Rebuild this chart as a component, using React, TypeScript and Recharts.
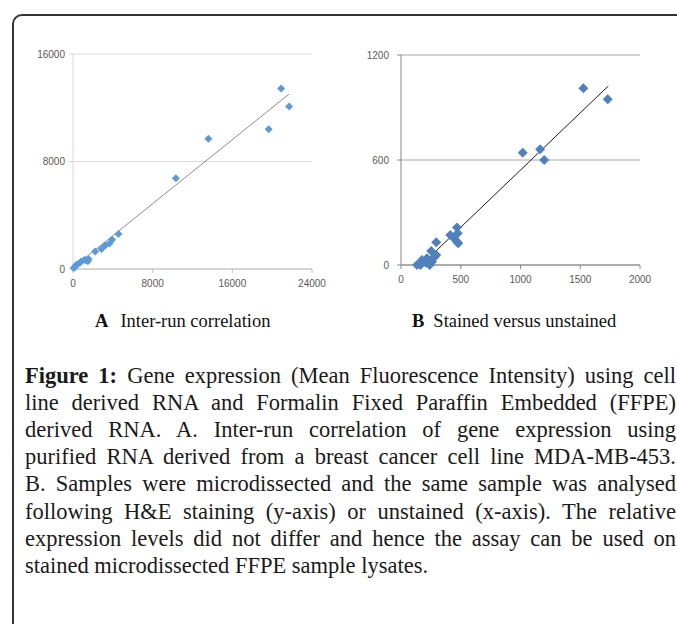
import React from 'react';
import { ScatterChart, Scatter, XAxis, YAxis, CartesianGrid, ReferenceLine } from 'recharts';

// A: inter-run correlation (run 1 vs run 2 MFI)
const runX = [20900, 21700, 19650, 13600, 10330, 4560, 3930, 3660, 3260, 2860, 2230, 1570, 1500, 1330, 1170, 830, 670, 330, 200, 70];
const runY = [13440, 12100, 10400, 9700, 6750, 2600, 2180, 1890, 1760, 1490, 1310, 740, 570, 640, 690, 550, 450, 320, 150, 70];
const runTrendX = [0, 21700];
const runTrendY = [100, 13020];
const runXTicks = [0, 8000, 16000, 24000];
const runYTicks = [0, 8000, 16000];

// B: stained (y) versus unstained (x)
const stainX = [1526, 1730, 1019, 1164, 1198, 468, 412, 475, 446, 468, 479, 295, 253, 295, 217, 175, 134, 162, 240, 209, 259, 280];
const stainY = [1010, 947, 642, 661, 600, 215, 171, 181, 152, 133, 124, 130, 80, 57, 38, 29, 0, 0, 0, 13, 19, 45];
const stainTrendX = [170, 1735];
const stainTrendY = [0, 1023];
const stainXTicks = [0, 500, 1000, 1500, 2000];
const stainYTicks = [0, 600, 1200];

const zip = (xs: number[], ys: number[]) => xs.map((x, i) => ({ x, y: ys[i] }));

const runData = zip(runX, runY);
const stainData = zip(stainX, stainY);
const runTrend = zip(runTrendX, runTrendY);
const stainTrend = zip(stainTrendX, stainTrendY);

const captionLines = [
  'Gene expression (Mean Fluorescence Intensity) using cell',
  'line derived RNA and Formalin Fixed Paraffin Embedded (FFPE)',
  'derived RNA. A. Inter-run correlation of gene expression using',
  'purified RNA derived from a breast cancer cell line MDA-MB-453.',
  'B. Samples were microdissected and the same sample was analysed',
  'following H&E staining (y-axis) or unstained (x-axis). The relative',
  'expression levels did not differ and hence the assay can be used on',
  'stained microdissected FFPE sample lysates.',
];

const diamond = (r: number, fill: string) => (props: any) => {
  const { cx, cy } = props;
  if (cx == null || cy == null) return <g />;
  return <polygon points={`${cx},${cy - r} ${cx + r},${cy} ${cx},${cy + r} ${cx - r},${cy}`} fill={fill} />;
};

const tickStyle = { fill: '#595959', fontSize: 10, fontFamily: 'Liberation Sans' };

export default function App() {
  return (
    <div style={{ position: 'absolute', left: 0, top: 0, width: 677, height: 624, background: '#fff', overflow: 'hidden' }}>
      <div style={{ position: 'absolute', left: 12, top: 14, width: 720, height: 700, border: '2px solid #333', borderRadius: 10 }} />

      <div style={{ position: 'absolute', left: 0, top: 40 }}>
        <ScatterChart width={340} height={260} margin={{ top: 14, right: 28, bottom: 11, left: 0 }}>
          <CartesianGrid vertical={false} stroke="#d9d9d9" />
          <XAxis type="number" dataKey="x" domain={[0, 24000]} ticks={runXTicks} interval={0}
            axisLine={{ stroke: '#bfbfbf' }} tickLine={{ stroke: '#bfbfbf' }} tickSize={4} tickMargin={7}
            tick={tickStyle} height={20} />
          <YAxis type="number" dataKey="y" domain={[0, 16000]} ticks={runYTicks} interval={0}
            axisLine={{ stroke: '#d9d9d9' }} tickLine={{ stroke: '#d9d9d9' }} tickSize={4} tickMargin={4}
            tick={tickStyle} width={73} />
          <ReferenceLine segment={runTrend} stroke="#8c8c8c" strokeWidth={1} />
          <Scatter data={runData} shape={diamond(4, '#5b9bd5')} isAnimationActive={false} />
        </ScatterChart>
      </div>

      <div style={{ position: 'absolute', left: 340, top: 40 }}>
        <ScatterChart width={330} height={260} margin={{ top: 15, right: 30, bottom: 15, left: 0 }}>
          <CartesianGrid vertical={false} stroke="#a6a6a6" />
          <XAxis type="number" dataKey="x" domain={[0, 2000]} ticks={stainXTicks} interval={0}
            axisLine={{ stroke: '#868686' }} tickLine={{ stroke: '#868686' }} tickSize={4} tickMargin={7}
            tick={tickStyle} height={20} />
          <YAxis type="number" dataKey="y" domain={[0, 1200]} ticks={stainYTicks} interval={0}
            axisLine={{ stroke: '#868686' }} tickLine={{ stroke: '#868686' }} tickSize={4} tickMargin={8}
            tick={tickStyle} width={61} />
          <ReferenceLine segment={stainTrend} stroke="#1a1a1a" strokeWidth={1} />
          <Scatter data={stainData} shape={diamond(5, '#4f81bd')} isAnimationActive={false} />
        </ScatterChart>
      </div>

      <div style={{ position: 'absolute', left: 95, top: 311, fontFamily: 'Liberation Serif', fontSize: 18.5, color: '#111', whiteSpace: 'nowrap' }}>
        <b>A</b><span style={{ marginLeft: 12 }}>Inter-run correlation</span>
      </div>
      <div style={{ position: 'absolute', left: 412, top: 311, fontFamily: 'Liberation Serif', fontSize: 18.5, color: '#111', whiteSpace: 'nowrap' }}>
        <b>B</b><span style={{ marginLeft: 9 }}>Stained versus unstained</span>
      </div>

      {captionLines.map((line, i) => {
        const last = i === captionLines.length - 1;
        return (
          <div key={i} style={{
            position: 'absolute', left: 25, width: 651, top: 362 + i * 27.1, height: 27, lineHeight: '27px',
            fontFamily: 'Liberation Serif', fontSize: 22.5, color: '#1a1a1a',
            textAlign: last ? 'left' : 'justify', textAlignLast: last ? 'left' : 'justify',
          }}>
            {i === 0 && <b>Figure 1: </b>}{line}
          </div>
        );
      })}
    </div>
  );
}
